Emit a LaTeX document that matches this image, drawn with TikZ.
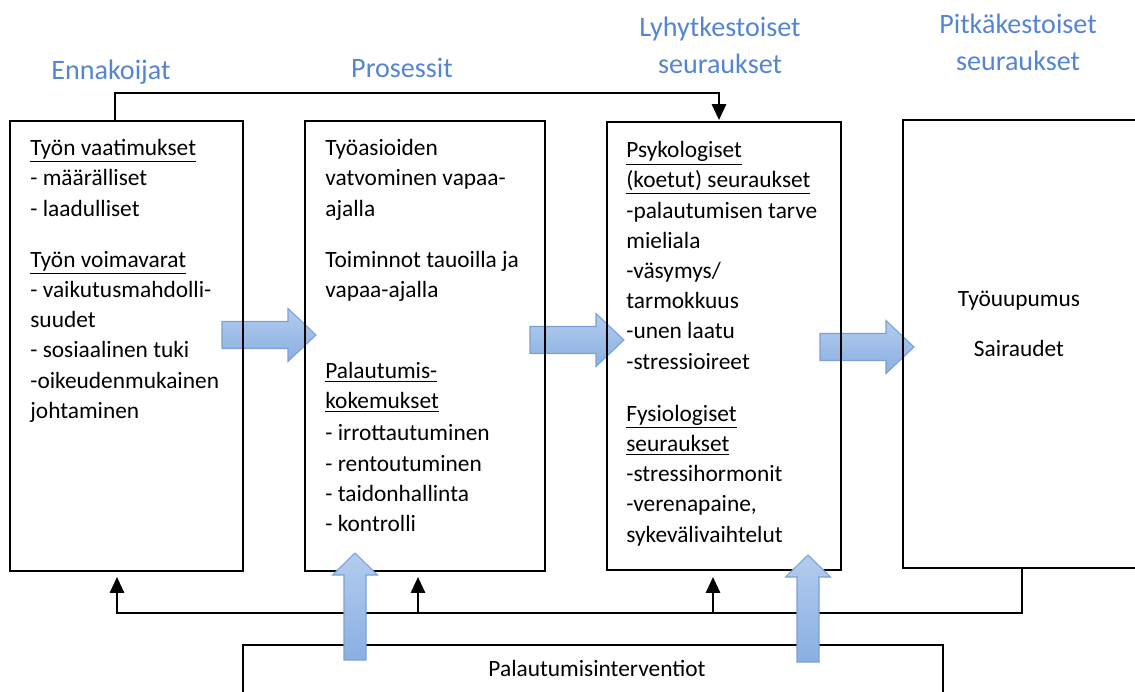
\documentclass[tikz,border=0pt]{standalone}
\usepackage{fontspec}
\setmainfont{Carlito}
\usetikzlibrary{arrows.meta}
\definecolor{otsikkosin}{RGB}{84,132,212}
\definecolor{nuolitop}{RGB}{178,204,238}
\definecolor{nuolibot}{RGB}{138,175,226}
\definecolor{nuolireuna}{RGB}{124,160,214}
\tikzset{
  laatikko/.style={draw, line width=0.9pt, inner sep=0pt},
  teksti/.style={anchor=north west, align=left, inner sep=0pt, font=\fontsize{13.3}{17.2}\selectfont},
  otsikko/.style={align=center, text=otsikkosin, font=\fontsize{16}{21}\selectfont},
  palaute/.style={line width=1.4pt, -{Triangle[length=9pt,width=8pt]}},
  isonuoli/.style={draw=nuolireuna, top color=nuolitop, bottom color=nuolibot, line width=0.6pt},
}
\begin{document}
\begin{tikzpicture}[x=0.02cm, y=-0.02cm]
  \useasboundingbox (0,0) rectangle (1135,691);

  % horizontal block arrows (under the box borders)
  \foreach \x/\y in {222/335, 530/340, 820/347} {
    \draw[isonuoli] (\x,\y-13.5) -- ++(66,0) -- ++(0,-13) -- ++(28,26.5)
      -- ++(-28,26.5) -- ++(0,-13) -- ++(-66,0) -- cycle;
  }

  % boxes
  \node[laatikko, minimum width=4.66cm, minimum height=9cm] (ennakoijat) at (126.5,346) {};
  \node[laatikko, minimum width=4.8cm, minimum height=9cm] (prosessit) at (425,346) {};
  \node[laatikko, minimum width=4.68cm, minimum height=8.96cm] (lyhyt) at (724,346) {};
  \node[laatikko, minimum width=4.94cm, minimum height=8.96cm] (pitka) at (1026.5,344) {};
  \node[laatikko, minimum width=14cm, minimum height=1.5cm] (interventiot) at (593,682.5) {};

  % headings
  \node[otsikko] (h1) at (111,72) {Ennakoijat};
  \node[otsikko] (h2) at (402,68) {Prosessit};
  \node[otsikko] (h3) at (720,45) {Lyhytkestoiset\\seuraukset};
  \node[otsikko] (h4) at (1018,42) {Pitkäkestoiset\\seuraukset};

  % box texts
  \node[teksti] (vaatimukset) at (30,139) {\underline{Työn vaatimukset}\\- määrälliset\\- laadulliset\\[12pt]
    \underline{Työn voimavarat}\\- vaikutusmahdolli-\\suudet\\- sosiaalinen tuki\\-oikeudenmukainen\\johtaminen};
  \node[teksti] (vatvominen) at (325,139) {Työasioiden\\vatvominen vapaa-\\ajalla\\[12pt]
    Toiminnot tauoilla ja\\vapaa-ajalla\\[29pt]
    \underline{Palautumis-}\\\underline{kokemukset}\\[1pt]- irrottautuminen\\- rentoutuminen\\- taidonhallinta\\- kontrolli};
  \node[teksti] (psyko) at (626,141) {\underline{Psykologiset}\\\underline{(koetut) seuraukset}\\-palautumisen tarve\\mieliala\\-väsymys/\\tarmokkuus\\-unen laatu\\-stressioireet\\[12.5pt]
    \underline{Fysiologiset}\\\underline{seuraukset}\\-stressihormonit\\-verenapaine,\\sykevälivaihtelut};
  \node[teksti, anchor=center, align=center] (uupumus) at (1019,324) {Työuupumus\\[11pt]Sairaudet};
  \node[teksti, anchor=center] (intervtxt) at (597,668) {Palautumisinterventiot};

  % top connector
  \coordinate (ylaA) at (115,121);
  \coordinate (ylaC) at (719,120);
  \draw[palaute] (ylaA) -- (115,93) -| (ylaC);

  % feedback connectors
  \coordinate (alaD) at (1022,568);
  \draw[palaute] (alaD) |- (117,613) -- (117,577);
  \foreach \x in {418,713} {
    \draw[palaute] (\x,613) -- (\x,577);
  }

  % vertical block arrows
  \foreach \x/\t/\b in {355/553/660, 808/555/662} {
    \draw[isonuoli] (\x-11,\b) -- (\x-11,\t+22) -- (\x-22.5,\t+22) -- (\x,\t)
      -- (\x+22.5,\t+22) -- (\x+11,\t+22) -- (\x+11,\b) -- cycle;
  }
\end{tikzpicture}
\end{document}
